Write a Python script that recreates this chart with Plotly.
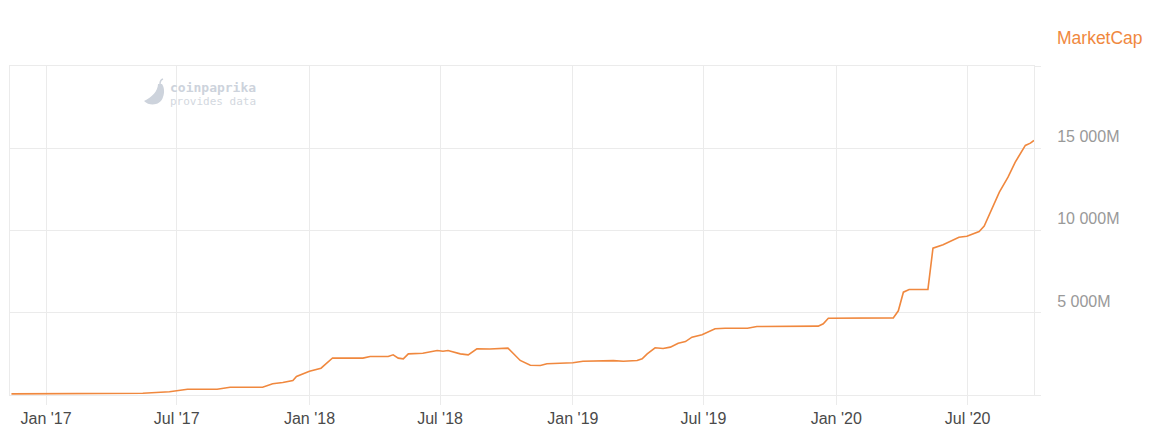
import plotly.graph_objects as go

# market cap, in millions USD
dates = [
    "2016-11-14", "2017-01-20", "2017-03-17", "2017-05-15", "2017-06-21",
    "2017-07-16", "2017-08-26", "2017-09-13", "2017-10-28", "2017-11-11",
    "2017-11-25", "2017-12-09", "2017-12-14", "2018-01-01", "2018-01-17",
    "2018-02-02", "2018-02-26", "2018-03-16", "2018-03-26", "2018-04-20",
    "2018-04-27", "2018-05-04", "2018-05-11", "2018-05-18", "2018-06-07",
    "2018-06-27", "2018-07-05", "2018-07-12", "2018-07-29", "2018-08-09",
    "2018-08-21", "2018-09-08", "2018-10-03", "2018-10-20", "2018-11-03",
    "2018-11-17", "2018-11-26", "2019-01-01", "2019-01-15", "2019-02-26",
    "2019-03-12", "2019-03-31", "2019-04-07", "2019-04-14", "2019-04-25",
    "2019-05-06", "2019-05-16", "2019-05-27", "2019-06-06", "2019-06-15",
    "2019-06-29", "2019-07-07", "2019-07-17", "2019-07-31", "2019-08-31",
    "2019-09-13", "2019-11-12", "2019-12-07", "2019-12-14", "2019-12-21",
    "2020-03-20", "2020-03-27", "2020-04-03", "2020-04-11", "2020-05-07",
    "2020-05-14", "2020-05-28", "2020-06-10", "2020-06-19", "2020-06-30",
    "2020-07-09", "2020-07-17", "2020-07-24", "2020-08-04", "2020-08-14",
    "2020-08-26", "2020-09-05", "2020-09-19", "2020-09-26", "2020-10-01",
]
market_cap = [
    70, 80, 95, 110, 195,
    350, 350, 475, 475, 680,
    760, 880, 1125, 1450, 1630,
    2250, 2240, 2240, 2340, 2340,
    2440, 2240, 2200, 2500, 2540,
    2700, 2660, 2700, 2500, 2440,
    2810, 2800, 2850, 2100, 1810,
    1790, 1900, 1960, 2055, 2090,
    2055, 2100, 2200, 2500, 2870,
    2830, 2910, 3150, 3250, 3515,
    3660, 3820, 4025, 4060, 4060,
    4165, 4185, 4185, 4330, 4670,
    4690, 5120, 6250, 6415, 6415,
    8925, 9130, 9395, 9595, 9655,
    9800, 9940, 10265, 11320, 12330,
    13240, 14155, 15170, 15310, 15475,
]

x_ticks = ["2017-01-01", "2017-07-01", "2018-01-01", "2018-07-01",
           "2019-01-01", "2019-07-01", "2020-01-01", "2020-07-01"]
x_labels = ["Jan '17", "Jul '17", "Jan '18", "Jul '18",
            "Jan '19", "Jul '19", "Jan '20", "Jul '20"]
y_ticks = [0, 5000, 10000, 15000, 20000]
y_labels = ["", "5 000M", "10 000M", "15 000M", ""]

ORANGE = "#f0883e"
GRID = "#ebebeb"
MARK = "#cdd3dc"

# page body has an 8px margin, so the figure is a bit smaller than the window
W, H = 1144, 433
L, R, T, B = 2, 118, 58, 46
PW, PH = W - L - R, H - T - B


def px(x):
    return (x - 8 - L) / PW


def py(y):
    return (H - B - (y - 8)) / PH


fig = go.Figure()

fig.add_trace(go.Scatter(
    x=dates, y=market_cap,
    mode="lines",
    name="MarketCap",
    line=dict(color=ORANGE, width=1.6),
    hovertemplate="%{x}<br>%{y:,.0f}M<extra></extra>",
))

# coinpaprika watermark (pepper + text)
fig.add_shape(
    type="path", xref="paper", yref="paper",
    xsizemode="pixel", ysizemode="pixel",
    xanchor=px(155), yanchor=py(92),
    path="M -11,-9 C -5,-15 6,-13 8,-5 C 10,0 9,5 7,8 L 3,8 C 3,1 -3,-5 -11,-9 Z",
    fillcolor=MARK, line=dict(width=0),
)
fig.add_shape(
    type="path", xref="paper", yref="paper",
    xsizemode="pixel", ysizemode="pixel",
    xanchor=px(155), yanchor=py(92),
    path="M 5,8 Q 5,12 8,13",
    line=dict(color=MARK, width=1.5),
)
fig.add_annotation(
    text="<b>coinpaprika</b>", xref="paper", yref="paper",
    x=px(168), y=py(88), xanchor="left", yanchor="middle",
    showarrow=False, font=dict(family="DejaVu Sans Mono", size=13, color=MARK),
)
fig.add_annotation(
    text="provides data", xref="paper", yref="paper",
    x=px(168), y=py(101), xanchor="left", yanchor="middle",
    showarrow=False, font=dict(family="DejaVu Sans Mono", size=11, color="#d3d8e0"),
)

# legend-like label top right
fig.add_annotation(
    text="MarketCap", xref="paper", yref="paper",
    x=px(1055), y=py(38), xanchor="left", yanchor="middle",
    showarrow=False, font=dict(family="Liberation Sans, Arial", size=17.5, color=ORANGE),
)

fig.update_layout(
    width=W, height=H, autosize=False,
    margin=dict(l=L, r=R, t=T, b=B),
    plot_bgcolor="white", paper_bgcolor="white",
    showlegend=False,
    font=dict(family="Liberation Sans, Arial, sans-serif"),
    xaxis=dict(
        type="date",
        range=["2016-11-12", "2020-10-01"],
        tickvals=x_ticks, ticktext=x_labels,
        showgrid=True, gridcolor=GRID, gridwidth=1,
        ticks="outside", ticklen=9, tickcolor=GRID,
        tickfont=dict(size=16, color="#4a4a4a"),
        showline=True, linecolor=GRID, linewidth=1, mirror=True,
        zeroline=False, fixedrange=True,
    ),
    yaxis=dict(
        side="right",
        range=[0, 20000],
        tickvals=y_ticks, ticktext=y_labels,
        showgrid=True, gridcolor=GRID, gridwidth=1,
        ticks="outside", ticklen=6, tickcolor=GRID,
        ticklabelposition="outside top", ticklabelstandoff=19,
        tickfont=dict(size=16, color="#999999"),
        showline=True, linecolor=GRID, linewidth=1, mirror=True,
        zeroline=False, fixedrange=True,
    ),
)

fig.write_html("out.html", config={"displayModeBar": False})
